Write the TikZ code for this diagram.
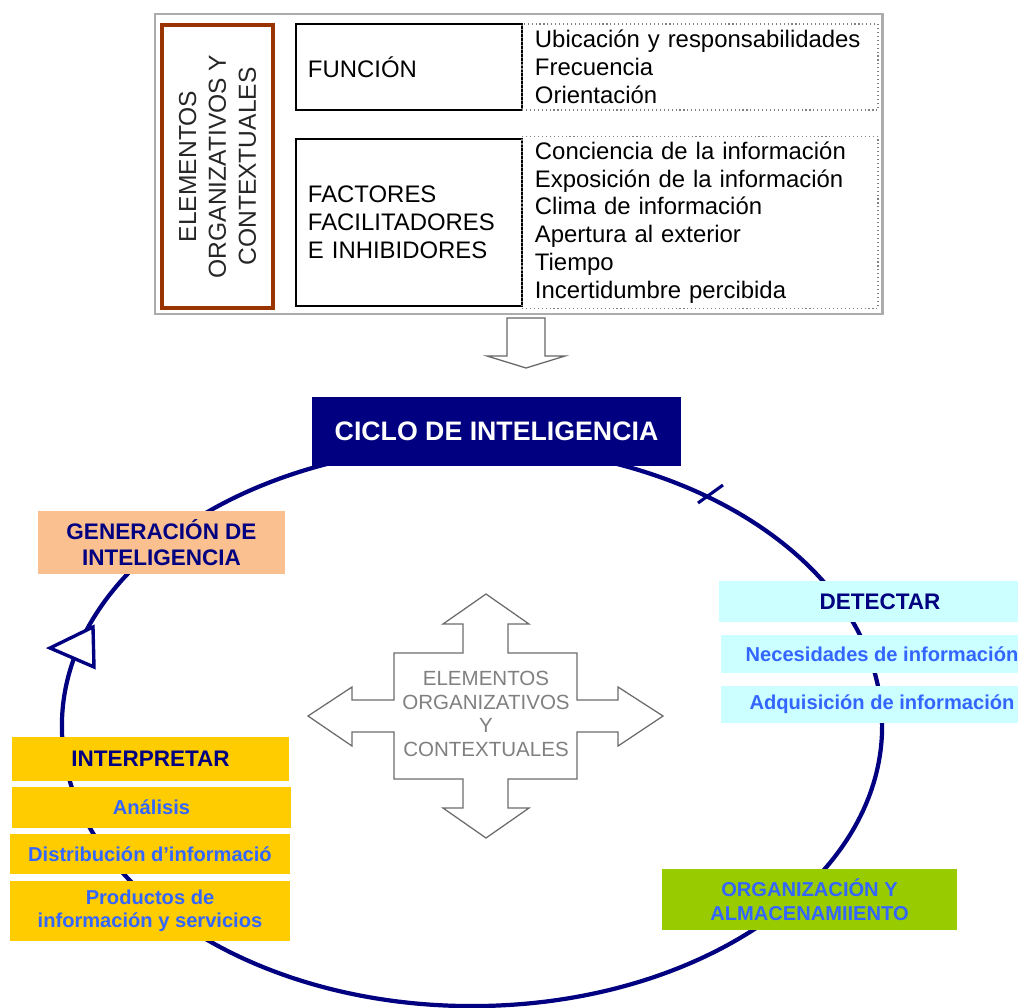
\documentclass[tikz,border=0pt]{standalone}
\usepackage{fontspec}
\setmainfont{Liberation Sans}
\usepackage{xcolor}
\usetikzlibrary{shapes}

\definecolor{navyblue}{RGB}{0,0,128}
\definecolor{linkblue}{RGB}{51,102,255}
\definecolor{brownred}{RGB}{153,51,0}
\definecolor{peach}{RGB}{250,192,144}
\definecolor{paleblue}{RGB}{204,255,255}
\definecolor{gold}{RGB}{255,204,0}
\definecolor{leafgreen}{RGB}{153,204,0}

\newcommand{\toptxt}{\fontsize{17}{19.8}\selectfont}
\newcommand{\headtxt}{\bfseries\fontsize{16}{18.4}\selectfont}
\newcommand{\subtxt}{\bfseries\fontsize{14.3}{16.2}\selectfont}

\begin{document}
\begin{tikzpicture}[x=0.025cm, y=-0.025cm,
  frame/.style={draw=gray!65, line width=2pt, minimum width=18.175cm, minimum height=7.5cm},
  sidebox/.style={draw=brownred, line width=2.5pt, minimum width=2.775cm, minimum height=7.075cm},
  factorbox/.style={draw=black, line width=0.9pt, inner xsep=0.3cm, text width=5.05cm, align=left, font=\toptxt},
  listbox/.style={draw=gray, dotted, line width=0.8pt, inner xsep=0.325cm, text width=8.25cm, align=left, font=\toptxt},
  headbox/.style={align=center, font=\headtxt, text=navyblue, inner sep=0pt},
  subbox/.style={align=center, font=\subtxt, text=linkblue, inner sep=0pt},
  cycleline/.style={draw=navyblue, line width=3pt},
  blockarrow/.style={draw=gray!80!black, line width=0.9pt, fill=white, line join=miter},
  crosstext/.style={align=center, text=gray, font=\fontsize{14.6}{16.8}\selectfont}
]

\useasboundingbox (0,0) rectangle (1018,1007);

% Top panel
\node[frame] (marco) at (518.5,164) {};
\node[sidebox] (lateral) at (217.5,166.5) {};
\node[rotate=90, align=center, text=black!85, font=\fontsize{17.5}{21.3}\selectfont] (lateraltxt) at (217.5,166.5)
  {ELEMENTOS\\ORGANIZATIVOS Y\\CONTEXTUALES};

\node[factorbox, minimum height=2.15cm] (funcion) at (409,67) {FUNCIÓN};
\node[listbox, minimum height=2.15cm] (funclist) at (700,67)
  {Ubicación y responsabilidades\\Frecuencia\\Orientación};

\node[factorbox, minimum height=4.175cm] (factores) at (409,222.5)
  {FACTORES\\FACILITADORES\\E INHIBIDORES};
\node[listbox, minimum height=4.175cm] (factlist) at (700,222.5)
  {Conciencia de la información\\Exposición de la información\\Clima de información\\Apertura al exterior\\Tiempo\\Incertidumbre percibida};

% Down arrow
\draw[blockarrow] (507,318) -- (545,318) -- (545,356) -- (565,356) -- (526,368)
  -- (487,356) -- (507,356) -- cycle;

% Cycle
\draw[cycleline] (472,726) ellipse [x radius=10.25cm, y radius=7cm];
\draw[cycleline, line width=2.2pt] (698,503) -- (723,485);
\draw[cycleline, line width=2.4pt, fill=white, line join=miter] (50,648) -- (93,627) -- (94,667) -- cycle;

\node[fill=navyblue, text=white, font=\bfseries\fontsize{19}{22}\selectfont,
  minimum width=9.225cm, minimum height=1.725cm] (ciclo) at (496.5,431.5) {CICLO DE INTELIGENCIA};

% Stages
\node[headbox, fill=peach, minimum width=6.175cm, minimum height=1.575cm] (generacion) at (161.5,542.5)
  {GENERACIÓN DE\\INTELIGENCIA};

\node[headbox, fill=paleblue, minimum width=8.05cm, minimum height=1.025cm] (detectar) at (880,601.5) {DETECTAR};
\node[subbox, fill=paleblue, minimum width=8.05cm, minimum height=0.95cm] (necesidades) at (882,654)
  {Necesidades de información};
\node[subbox, fill=paleblue, minimum width=8.05cm, minimum height=0.925cm] (adquisicion) at (882,704.5)
  {Adquisición de información};

\node[headbox, fill=gold, minimum width=6.925cm, minimum height=1.1cm] (interpretar) at (150.5,759) {INTERPRETAR};
\node[subbox, fill=gold, minimum width=6.975cm, minimum height=1.025cm] (analisis) at (151.5,807.5) {Análisis};
\node[subbox, fill=gold, minimum width=7cm, minimum height=1cm] (distribucion) at (150,854)
  {Distribución d’informació};
\node[subbox, fill=gold, minimum width=7cm, minimum height=1.5cm] (productos) at (150,911)
  {Productos de\\información y servicios};

\node[subbox, fill=leafgreen, minimum width=7.375cm, minimum height=1.525cm,
  font=\bfseries\fontsize{14.3}{17}\selectfont] (organizacion) at (809.5,899.5)
  {ORGANIZACIÓN Y\\ALMACENAMIIENTO};

% Centre cross
\draw[blockarrow, draw=gray!85!black] (486,594) -- (529,624) -- (508,624) -- (508,653) -- (577,653) -- (577,700)
  -- (618,700) -- (618,687) -- (663,716) -- (618,746) -- (618,732) -- (577,732)
  -- (577,779) -- (508,779) -- (508,808) -- (529,808) -- (486,838) -- (443,808)
  -- (463,808) -- (463,779) -- (394,779) -- (394,732) -- (352,732) -- (352,746)
  -- (308,716) -- (352,687) -- (352,700) -- (394,700) -- (394,653) -- (463,653)
  -- (463,624) -- (443,624) -- cycle;
\node[crosstext] (centro) at (486,714) {ELEMENTOS\\ORGANIZATIVOS\\Y\\CONTEXTUALES};

\end{tikzpicture}
\end{document}
